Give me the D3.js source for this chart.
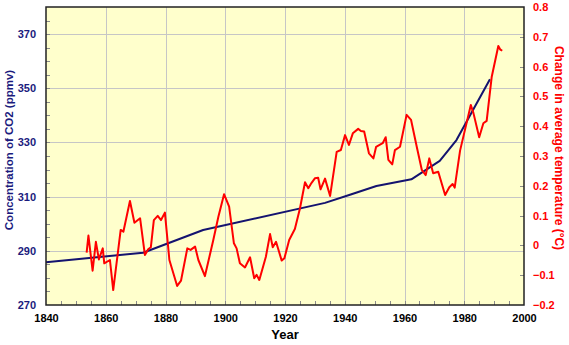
<!DOCTYPE html>
<html>
<head>
<meta charset="utf-8">
<script src="https://cdn.jsdelivr.net/npm/d3@7"></script>
<style>
  html, body { margin: 0; padding: 0; background: #ffffff; }
  svg { display: block; font-family: "Liberation Sans", Arial, Helvetica, sans-serif; font-weight: bold; }
</style>
</head>
<body>
<svg id="chart" width="569" height="345"></svg>
<script>
// Atmospheric CO2 concentration (ppmv)
const co2Years  = [1840, 1872.5, 1892.6, 1933.4, 1942, 1950.6, 1962.3, 1971.8, 1977.4, 1988.6];
const co2Values = [285.8, 289.3, 297.7, 307.7, 310.8, 313.9, 316.4, 323.2, 330.9, 353.3];

// Change in average global temperature (°C)
const tempYears = [
  1853.6, 1854.2, 1855.6, 1856.7, 1857.7, 1859.0, 1859.5, 1861.4, 1862.5, 1865.0,
  1865.9, 1868.1, 1869.6, 1871.5, 1873.1, 1874.2, 1875.1, 1876.1, 1877.4, 1878.5,
  1879.8, 1881.3, 1883.9, 1885.2, 1887.3, 1888.4, 1889.9, 1891.0, 1893.2, 1896.0,
  1897.7, 1899.6, 1901.3, 1902.9, 1903.8, 1904.9, 1906.6, 1908.3, 1909.7, 1910.5,
  1911.4, 1913.6, 1915.0, 1915.9, 1917.0, 1918.9, 1919.8, 1921.4, 1923.3, 1925.0,
  1926.7, 1927.8, 1928.9, 1930.0, 1931.1, 1931.9, 1933.4, 1935.1, 1937.3, 1938.7,
  1940.1, 1941.4, 1942.7, 1944.5, 1945.4, 1946.5, 1948.1, 1949.6, 1950.5, 1951.8,
  1952.7, 1953.7, 1954.6, 1955.9, 1956.8, 1958.5, 1960.7, 1962.2, 1964.1, 1965.8,
  1967.1, 1968.3, 1969.6, 1971.3, 1973.6, 1975.0, 1976.1, 1976.8, 1978.6, 1979.7,
  1982.2, 1983.1, 1985.0, 1986.4, 1987.5, 1989.2, 1991.4, 1992.0, 1992.7
];
const tempValues = [
  -0.024, 0.033, -0.085, 0.012, -0.047, -0.010, -0.060, -0.049, -0.150, 0.052,
  0.046, 0.149, 0.076, 0.091, -0.032, -0.013, -0.006, 0.085, 0.099, 0.085,
  0.110, -0.049, -0.136, -0.118, -0.010, -0.015, -0.004, -0.049, -0.103, 0.018,
  0.096, 0.172, 0.130, 0.007, -0.010, -0.060, -0.074, -0.040, -0.110, -0.099,
  -0.116, -0.038, 0.038, -0.006, 0.012, -0.051, -0.043, 0.018, 0.055, 0.124,
  0.212, 0.192, 0.210, 0.225, 0.227, 0.188, 0.224, 0.166, 0.314, 0.320,
  0.370, 0.337, 0.376, 0.391, 0.384, 0.382, 0.309, 0.292, 0.331, 0.338,
  0.343, 0.363, 0.287, 0.272, 0.320, 0.331, 0.438, 0.421, 0.331, 0.253,
  0.236, 0.292, 0.242, 0.247, 0.169, 0.195, 0.206, 0.194, 0.318, 0.365,
  0.471, 0.443, 0.363, 0.410, 0.418, 0.566, 0.669, 0.658, 0.653
];

// Axis ticks
const yearTicks = [1840, 1860, 1880, 1900, 1920, 1940, 1960, 1980, 2000];
const co2Ticks  = [270, 290, 310, 330, 350, 370];
const tempTicks = [-0.2, -0.1, 0, 0.1, 0.2, 0.3, 0.4, 0.5, 0.6, 0.7, 0.8];

const navy = "#1b1b7d";
const red = "#ff0000";
const plot = { left: 46, right: 524, top: 7, bottom: 305 };

const svg = d3.select("#chart");

const x  = d3.scaleLinear().domain([1840, 2000]).range([plot.left, plot.right]);
const yC = d3.scaleLinear().domain([270, 380]).range([plot.bottom, plot.top]);
const yT = d3.scaleLinear().domain([-0.2, 0.8]).range([plot.bottom, plot.top]);

// Plot background
svg.append("rect")
  .attr("x", plot.left).attr("y", plot.top)
  .attr("width", plot.right - plot.left).attr("height", plot.bottom - plot.top)
  .attr("fill", "#ffffcc");

// Grid lines
const grid = svg.append("g").attr("stroke", "#c6c6c6").attr("stroke-width", 1);
grid.selectAll("line.v").data(yearTicks.slice(1, -1)).join("line")
  .attr("x1", d => Math.round(x(d)) + 0.5).attr("x2", d => Math.round(x(d)) + 0.5)
  .attr("y1", plot.top).attr("y2", plot.bottom);
grid.selectAll("line.h").data(co2Ticks.slice(1)).join("line")
  .attr("y1", d => Math.round(yC(d)) + 0.5).attr("y2", d => Math.round(yC(d)) + 0.5)
  .attr("x1", plot.left).attr("x2", plot.right);

// Inward minor ticks
const tickG = svg.append("g").attr("stroke", "#8a8a8a").attr("stroke-width", 1);
tickG.selectAll("line.bx").data(d3.range(1845, 2000, 5)).join("line")
  .attr("x1", d => Math.round(x(d)) + 0.5).attr("x2", d => Math.round(x(d)) + 0.5)
  .attr("y1", plot.bottom).attr("y2", plot.bottom - 4);
tickG.selectAll("line.ly").data(d3.range(275, 380, 5)).join("line")
  .attr("y1", d => Math.round(yC(d)) + 0.5).attr("y2", d => Math.round(yC(d)) + 0.5)
  .attr("x1", plot.left).attr("x2", plot.left + 4);
tickG.selectAll("line.ry").data(tempTicks.slice(1, -1)).join("line")
  .attr("y1", d => Math.round(yT(d)) + 0.5).attr("y2", d => Math.round(yT(d)) + 0.5)
  .attr("x1", plot.right).attr("x2", plot.right - 4);

// CO2 line
svg.append("path")
  .datum(co2Years.map((yr, i) => [yr, co2Values[i]]))
  .attr("fill", "none").attr("stroke", "#14136f").attr("stroke-width", 2)
  .attr("stroke-linejoin", "round")
  .attr("d", d3.line().x(d => x(d[0])).y(d => yC(d[1])));

// Temperature line
svg.append("path")
  .datum(tempYears.map((yr, i) => [yr, tempValues[i]]))
  .attr("fill", "none").attr("stroke", red).attr("stroke-width", 2)
  .attr("stroke-linejoin", "round")
  .attr("d", d3.line().x(d => x(d[0])).y(d => yT(d[1])));

// Frame
svg.append("rect")
  .attr("x", plot.left).attr("y", plot.top)
  .attr("width", plot.right - plot.left).attr("height", plot.bottom - plot.top)
  .attr("fill", "none").attr("stroke", "#222").attr("stroke-width", 1.5);

// Axis tick labels (domain and tick lines hidden)
const bottomAxis = svg.append("g")
  .attr("transform", `translate(0,${plot.bottom})`)
  .call(d3.axisBottom(x).tickValues(yearTicks).tickFormat(d3.format("d")).tickSize(0).tickPadding(9));
bottomAxis.select(".domain").remove();
bottomAxis.selectAll("text").attr("fill", "#000").style("font-size", "11px").style("font-weight", "bold")
  .style("font-family", "'Liberation Sans', Arial, sans-serif");

const leftAxis = svg.append("g")
  .attr("transform", `translate(${plot.left},0)`)
  .call(d3.axisLeft(yC).tickValues(co2Ticks).tickFormat(d3.format("d")).tickSize(0).tickPadding(10));
leftAxis.select(".domain").remove();
leftAxis.selectAll("text").attr("fill", navy).style("font-size", "11px").style("font-weight", "bold")
  .style("font-family", "'Liberation Sans', Arial, sans-serif");

const rightAxis = svg.append("g")
  .attr("transform", `translate(${plot.right},0)`)
  .call(d3.axisRight(yT).tickValues(tempTicks).tickFormat(d => d3.format("")(Math.round(d * 10) / 10)).tickSize(0).tickPadding(9));
rightAxis.select(".domain").remove();
rightAxis.selectAll("text").attr("fill", red).style("font-size", "11px").style("font-weight", "bold")
  .style("font-family", "'Liberation Sans', Arial, sans-serif");

// Axis titles
svg.append("text")
  .attr("x", (plot.left + plot.right) / 2).attr("y", 339)
  .attr("text-anchor", "middle").attr("fill", "#000")
  .style("font-size", "13px").text("Year");

svg.append("text")
  .attr("transform", "translate(13,150) rotate(-90)")
  .attr("text-anchor", "middle").attr("fill", navy)
  .style("font-size", "11.5px").text("Concentration of CO2 (ppmv)");

svg.append("text")
  .attr("transform", "translate(555,148) rotate(90)")
  .attr("text-anchor", "middle").attr("fill", red)
  .style("font-size", "12px").text("Change in average temperature (°C)");
</script>
</body>
</html>
